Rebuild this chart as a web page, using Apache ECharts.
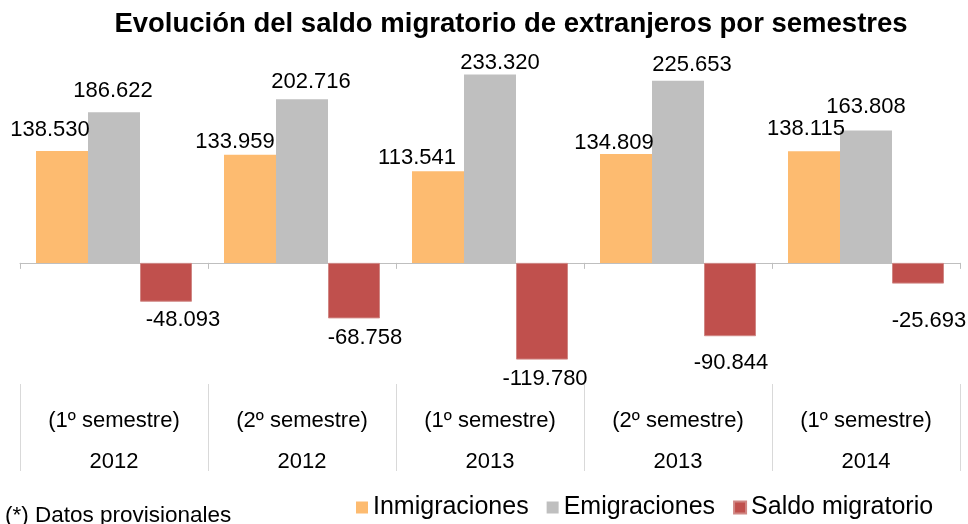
<!DOCTYPE html>
<html>
<head>
<meta charset="utf-8">
<title>Saldo migratorio</title>
<script src="https://cdn.jsdelivr.net/npm/echarts@6/dist/echarts.min.js"></script>
<style>
  html, body { margin: 0; padding: 0; background: #fff; }
  #chart { width: 968px; height: 524px; }
</style>
</head>
<body>
<div id="chart"></div>
<script>
var semestres = ['(1º semestre)', '(2º semestre)', '(1º semestre)', '(2º semestre)', '(1º semestre)'];
var anios = ['2012', '2012', '2013', '2013', '2014'];

var inmigraciones = [138530, 133959, 113541, 134809, 138115];
var emigraciones = [186622, 202716, 233320, 225653, 163808];
var saldo = [-48093, -68758, -119780, -90844, -25693];

// label nudges, hand placed like the original
var nudgeInm = [[-12, -5], [-15, 3], [-21, 3], [-12, 5], [-8, -6]];
var nudgeEmi = [[-1, -5], [9, -1], [10, 4], [14, 0], [0, -8]];
var nudgeSal = [[17, 2], [11, 4], [3, 3], [1, 11], [11, 21]];

var FONT = '"Liberation Sans", Arial, sans-serif';

function miles(v) {
    var s = String(Math.abs(v)).replace(/\B(?=(\d{3})+(?!\d))/g, '.');
    return (v < 0 ? '-' : '') + s;
}

function buildData(values, nudges, pos) {
    return values.map(function (v, i) {
        return {
            value: v,
            label: { position: pos, offset: nudges[i] }
        };
    });
}

var categorias = semestres.map(function (s, i) { return s + '\n' + anios[i]; });

var labelStyle = {
    show: true,
    fontFamily: FONT,
    fontSize: 22,
    color: '#000',
    formatter: function (p) { return miles(p.value); }
};

var chart = echarts.init(document.getElementById('chart'), null, { renderer: 'canvas' });

chart.setOption({
    animation: false,
    backgroundColor: '#fff',
    title: {
        text: 'Evolución del saldo migratorio de extranjeros por semestres',
        left: 511,
        top: 10,
        padding: 0,
        textAlign: 'center',
        textStyle: { fontFamily: FONT, fontSize: 27.5, fontWeight: 'bold', color: '#000' }
    },
    legend: {
        left: 356,
        top: 495,
        padding: 0,
        itemWidth: 12,
        itemHeight: 12,
        itemGap: 18,
        icon: 'rect',
        textStyle: { fontFamily: FONT, fontSize: 25, color: '#000' },
        data: ['Inmigraciones', 'Emigraciones', 'Saldo migratorio']
    },
    graphic: [{
        type: 'text',
        left: 5,
        top: 504,
        style: { text: '(*) Datos provisionales', fontFamily: FONT, fontSize: 22.5, fill: '#000' }
    }],
    grid: { left: 20, right: 8, top: 61, bottom: 140, containLabel: false },
    xAxis: [{
        type: 'category',
        data: categorias,
        position: 'bottom',
        axisLine: { show: false, onZero: false },
        axisTick: { show: true, length: 87, lineStyle: { color: '#d9d9d9' } },
        axisLabel: {
            interval: 0,
            margin: 16,
            fontFamily: FONT,
            fontSize: 22,
            lineHeight: 41,
            color: '#000'
        }
    }, {
        type: 'category',
        data: categorias,
        position: 'bottom',
        axisLine: { show: true, onZero: true, lineStyle: { color: '#bfbfbf', width: 1 } },
        axisTick: { show: true, length: 6, lineStyle: { color: '#bfbfbf' } },
        axisLabel: { show: false }
    }],
    yAxis: {
        type: 'value',
        min: -150000,
        max: 250000,
        show: false,
        splitLine: { show: false }
    },
    series: [{
        name: 'Inmigraciones',
        type: 'bar',
        barWidth: 52,
        barGap: '0%',
        itemStyle: { color: '#fdbb70' },
        label: labelStyle,
        data: buildData(inmigraciones, nudgeInm, 'top')
    }, {
        name: 'Emigraciones',
        type: 'bar',
        barWidth: 52,
        barGap: '0%',
        itemStyle: { color: '#bfbfbf' },
        label: labelStyle,
        data: buildData(emigraciones, nudgeEmi, 'top')
    }, {
        name: 'Saldo migratorio',
        type: 'bar',
        barWidth: 52,
        barGap: '0%',
        itemStyle: { color: '#c0504d', borderColor: '#d08784', borderWidth: 1 },
        label: labelStyle,
        data: buildData(saldo, nudgeSal, 'bottom')
    }]
});
</script>
</body>
</html>
